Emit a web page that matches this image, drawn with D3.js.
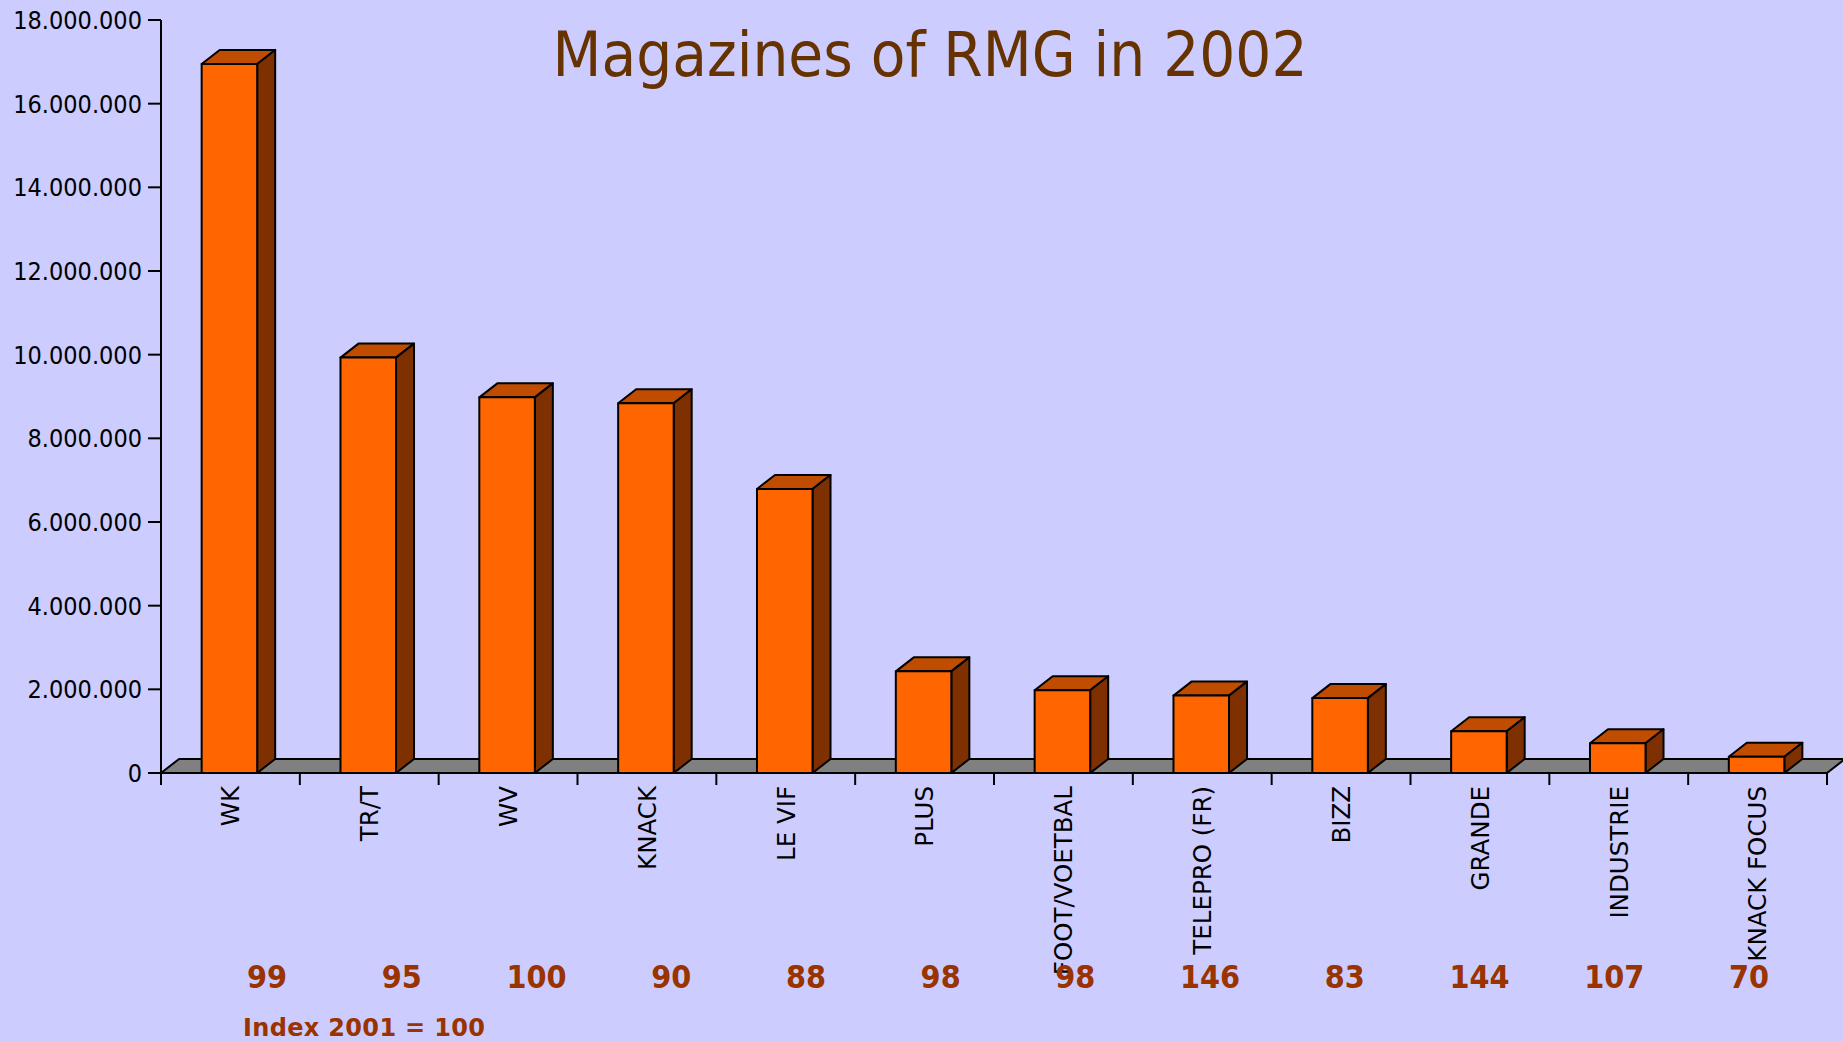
<!DOCTYPE html>
<html>
<head>
<meta charset="utf-8">
<script src="https://cdn.jsdelivr.net/npm/d3@7"></script>
<style>
  body { margin: 0; background: #ccccff; }
  svg { display: block; }
</style>
</head>
<body>
<div id="chart"></div>
<script>
var width = 1843, height = 1042;

// data
var magazines = ["WK", "TR/T", "WV", "KNACK", "LE VIF", "PLUS", "FOOT/VOETBAL",
                 "TELEPRO (FR)", "BIZZ", "GRANDE", "INDUSTRIE", "KNACK FOCUS"];
var circulation = [16950000, 9930000, 8980000, 8840000, 6790000, 2430000, 1980000,
                   1850000, 1790000, 1000000, 710000, 390000];
var index2001 = [99, 95, 100, 90, 88, 98, 98, 146, 83, 144, 107, 70];
var yTicks = [0, 2000000, 4000000, 6000000, 8000000, 10000000, 12000000, 14000000, 16000000, 18000000];

var plot = {left: 161, right: 1827, top: 20, bottom: 773};
var depth = {dx: 18, dy: -14};

var svg = d3.select("#chart").append("svg")
    .attr("width", width).attr("height", height);

svg.append("rect").attr("width", width).attr("height", height).attr("fill", "#ccccff");

var x = d3.scaleBand()
    .domain(magazines)
    .range([plot.left, plot.right]);

var y = d3.scaleLinear()
    .domain([0, 18000000])
    .range([plot.bottom, plot.top]);

var fmt = d3.formatLocale({decimal: ",", thousands: ".", grouping: [3], currency: ["", ""]}).format(",d");

/* grey floor behind the bars */
svg.append("polygon")
    .attr("points", [
        [plot.left, plot.bottom],
        [plot.left + depth.dx, plot.bottom + depth.dy],
        [plot.right + depth.dx, plot.bottom + depth.dy],
        [plot.right, plot.bottom]
    ].join(" "))
    .attr("fill", "#808080")
    .attr("stroke", "#000")
    .attr("stroke-width", 2)
    .attr("stroke-linejoin", "round");

/* y axis */
var yAxis = svg.append("g").attr("class", "yaxis");
yAxis.append("line")
    .attr("x1", plot.left).attr("x2", plot.left)
    .attr("y1", y(18000000)).attr("y2", plot.bottom + 12)
    .attr("stroke", "#000").attr("stroke-width", 2);
var yt = yAxis.selectAll(".tick").data(yTicks).enter().append("g")
    .attr("class", "tick")
    .attr("transform", function(d) { return "translate(0," + y(d) + ")"; });
yt.append("line")
    .attr("x1", plot.left - 13).attr("x2", plot.left)
    .attr("stroke", "#000").attr("stroke-width", 2);
yt.append("text")
    .attr("x", plot.left - 19)
    .attr("dy", "0.36em")
    .attr("text-anchor", "end")
    .style("font-family", "'DejaVu Sans Condensed', 'DejaVu Sans', sans-serif")
    .style("font-stretch", "condensed")
    .style("font-size", "25px")
    .attr("fill", "#000")
    .text(function(d) { return fmt(d); });

/* x axis ticks between the bands */
var bounds = magazines.map(function(d) { return x(d); }).concat([plot.right]);
svg.append("g").selectAll("line").data(bounds).enter().append("line")
    .attr("x1", function(d) { return d; }).attr("x2", function(d) { return d; })
    .attr("y1", plot.bottom).attr("y2", plot.bottom + 12)
    .attr("stroke", "#000").attr("stroke-width", 2);

svg.append("line")
    .attr("x1", plot.left).attr("x2", plot.right)
    .attr("y1", plot.bottom).attr("y2", plot.bottom)
    .attr("stroke", "#000").attr("stroke-width", 2);

/* 3d bars */
var barW = x.bandwidth() * 0.4;
var bars = svg.append("g").selectAll("g").data(magazines).enter().append("g");

function barLeft(d) { return x(d) + (x.bandwidth() - barW) / 2 - 1; }
function barTop(i) { return y(circulation[i]); }

bars.append("polygon")   // top face
    .attr("points", function(d, i) {
        var a = barLeft(d), t = barTop(i);
        return [[a, t], [a + depth.dx, t + depth.dy], [a + barW + depth.dx, t + depth.dy], [a + barW, t]].join(" ");
    })
    .attr("fill", "#c04c00");

bars.append("polygon")   // side face
    .attr("points", function(d, i) {
        var a = barLeft(d) + barW, t = barTop(i);
        return [[a, t], [a + depth.dx, t + depth.dy], [a + depth.dx, plot.bottom + depth.dy], [a, plot.bottom]].join(" ");
    })
    .attr("fill", "#7f3000");

bars.append("rect")      // front face
    .attr("x", function(d) { return barLeft(d); })
    .attr("y", function(d, i) { return barTop(i); })
    .attr("width", barW)
    .attr("height", function(d, i) { return plot.bottom - barTop(i); })
    .attr("fill", "#ff6600");

bars.selectAll("polygon, rect")
    .attr("stroke", "#000")
    .attr("stroke-width", 2)
    .attr("stroke-linejoin", "round");

/* category labels */
svg.append("g").selectAll("text").data(magazines).enter().append("text")
    .attr("transform", function(d) {
        return "translate(" + (x(d) + x.bandwidth() / 2) + "," + (plot.bottom + 13) + ") rotate(-90)";
    })
    .attr("dy", "0.36em")
    .attr("text-anchor", "end")
    .style("font-family", "'DejaVu Sans', sans-serif")
    .style("font-size", "24.5px")
    .attr("fill", "#000")
    .text(function(d) { return d; });

/* index row */
var xi = d3.scalePoint().domain(magazines).range([267, 1749]);
svg.append("g").selectAll("text").data(index2001).enter().append("text")
    .attr("x", function(d, i) { return xi(magazines[i]); })
    .attr("y", 988)
    .attr("text-anchor", "middle")
    .style("font-family", "'DejaVu Sans Condensed', 'DejaVu Sans', sans-serif")
    .style("font-stretch", "condensed")
    .style("font-weight", "bold")
    .style("font-size", "32px")
    .attr("fill", "#993300")
    .text(function(d) { return d; });

svg.append("text")
    .attr("x", 243).attr("y", 1036)
    .attr("textLength", 242)
    .style("font-family", "'DejaVu Sans', sans-serif")
    .style("font-weight", "bold")
    .style("font-size", "24px")
    .attr("fill", "#993300")
    .text("Index 2001 = 100");

/* title */
svg.append("text")
    .attr("x", 930).attr("y", 76)
    .attr("text-anchor", "middle")
    .style("font-family", "'DejaVu Sans Condensed', 'DejaVu Sans', sans-serif")
    .style("font-stretch", "condensed")
    .style("font-size", "63px")
    .attr("fill", "#663300")
    .text("Magazines of RMG in 2002");
</script>
</body>
</html>
